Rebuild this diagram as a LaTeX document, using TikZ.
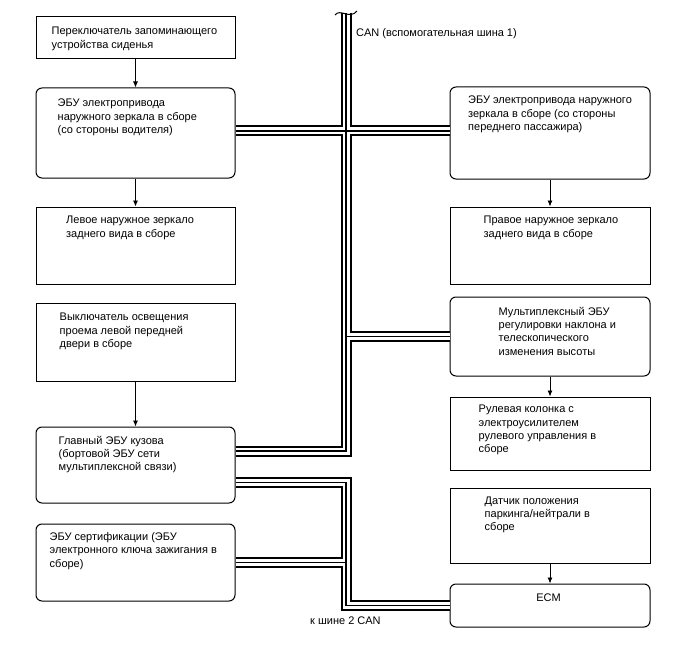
\documentclass[tikz,border=0pt]{standalone}
\usepackage{fontspec}
\setmainfont{Liberation Sans}
\usetikzlibrary{arrows.meta, positioning, calc}

\begin{document}
\begin{tikzpicture}[
    x=1pt, y=-1pt,
    blk/.style={draw, line width=1pt, minimum width=199pt, inner sep=0pt},
    ecu/.style={blk, rounded corners=6pt},
    txt/.style={anchor=north west, align=left, inner sep=0pt, font=\fontsize{11}{13.3}\selectfont},
    arrow/.style={-{Latex[length=6pt, width=5pt]}, line width=0.8pt},
    lbl/.style={anchor=base west, inner sep=0pt, font=\fontsize{11}{13.3}\selectfont}
  ]
  \useasboundingbox (0,0) rectangle (688,658);

  % Left column
  \node[blk, minimum height=42pt] (seatsw) at (135.5,38) {};
  \node[ecu, minimum height=90pt] (mirdrv) at (135.5,133) {};
  \node[blk, minimum height=77pt] (mirl) at (135.5,245.5) {};
  \node[blk, minimum height=78pt] (doorsw) at (135.5,342) {};
  \node[ecu, minimum height=76pt] (mainecu) at (135.5,465) {};
  \node[ecu, minimum height=77pt] (certecu) at (135.5,562.5) {};

  % Right column
  \node[ecu, minimum width=200pt, minimum height=92pt] (mirpas) at (550,133) {};
  \node[blk, minimum width=200pt, minimum height=77pt] (mirr) at (550,245.5) {};
  \node[ecu, minimum width=200pt, minimum height=79pt] (tiltecu) at (550,336.5) {};
  \node[blk, minimum width=200pt, minimum height=73pt] (steer) at (550,433.5) {};
  \node[blk, minimum width=200pt, minimum height=75pt] (pnsw) at (550,525.5) {};
  \node[ecu, minimum width=200pt, minimum height=43pt] (ecm) at (550,605.5) {};

  % Box texts
  \node[txt] (seatswt) at ($(seatsw.north west)+(16,10.5)$) {Переключатель запоминающего\\устройства сиденья};
  \node[txt] (mirdrvt) at ($(mirdrv.north west)+(22,11.5)$) {ЭБУ электропривода\\наружного зеркала в сборе\\(со стороны водителя)};
  \node[txt] (mirlt) at ($(mirl.north west)+(30.5,9.5)$) {Левое наружное зеркало\\заднего вида в сборе};
  \node[txt] (doorswt) at ($(doorsw.north west)+(24,10.5)$) {Выключатель освещения\\проема левой передней\\двери в сборе};
  \node[txt] (mainecut) at ($(mainecu.north west)+(23,9.5)$) {Главный ЭБУ кузова\\(бортовой ЭБУ сети\\мультиплексной связи)};
  \node[txt] (certecut) at ($(certecu.north west)+(14,9)$) {ЭБУ сертификации (ЭБУ\\электронного ключа зажигания в\\сборе)};
  \node[txt] (mirpast) at ($(mirpas.north west)+(18.5,9.5)$) {ЭБУ электропривода наружного\\зеркала в сборе (со стороны\\переднего пассажира)};
  \node[txt] (mirrt) at ($(mirr.north west)+(34,9.5)$) {Правое наружное зеркало\\заднего вида в сборе};
  \node[txt] (tiltecut) at ($(tiltecu.north west)+(49,10.5)$) {Мультиплексный ЭБУ\\регулировки наклона и\\телескопического\\изменения высоты};
  \node[txt] (steert) at ($(steer.north west)+(29,8.5)$) {Рулевая колонка с\\электроусилителем\\рулевого управления в\\сборе};
  \node[txt] (pnswt) at ($(pnsw.north west)+(35,9)$) {Датчик положения\\паркинга/нейтрали в\\сборе};
  \node[txt, anchor=base] (ecmt) at ($(ecm.north)+(-1.5,17.5)$) {ECM};

  % Arrows
  \draw[arrow] (seatsw) -- (mirdrv);
  \draw[arrow] (mirdrv) -- (mirl);
  \draw[arrow] (doorsw) -- (mainecu);
  \draw[arrow] (mirpas) -- (mirr);
  \draw[arrow] (tiltecu) -- (steer);
  \draw[arrow] (pnsw) -- (ecm);

  % CAN buses: dark edges, white gap, centre wire
  \coordinate (can1top) at (346,13);
  \foreach \lw/\col in {11/black, 7/white, 1.4/black} {
    \draw[line width=\lw pt, color=\col]
      (can1top) |- ([yshift=14pt]mainecu.east)
      ([yshift=2pt]mirdrv.east) -- ([yshift=2pt]mirpas.west)
      (can1top |- tiltecu.west) -- (tiltecu.west)
      ([yshift=-17.5pt]mainecu.east) -| (can1top |- ecm.west) -- (ecm.west)
      (certecu.east) -- (certecu.east -| can1top);
  }
  % break mark at the top of the bus
  \draw[line width=1pt] (335,15) .. controls (340,8) and (350,20) .. (357,11);

  % Bus labels
  \node[lbl] (can1lbl) at (356,37) {CAN (вспомогательная шина 1)};
  \node[lbl] (can2lbl) at (310,624) {к шине 2 CAN};

\end{tikzpicture}
\end{document}
